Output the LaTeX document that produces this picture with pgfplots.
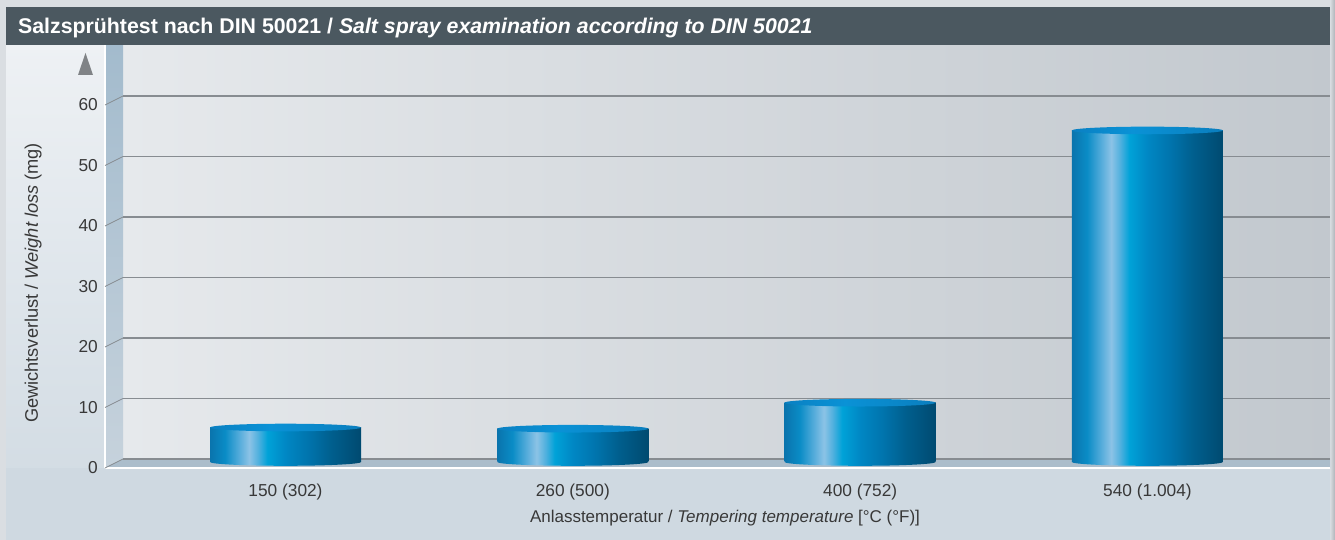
\documentclass[border=0pt]{standalone}
\usepackage{fontspec}
\setmainfont{Liberation Sans}
\usepackage{pgfplots}
\pgfplotsset{compat=1.18}
\definecolor{titlebar}{HTML}{4B5860}
\definecolor{canvas}{HTML}{DADEE2}
\definecolor{canvasR}{HTML}{AEB3B8}
\definecolor{paneltop}{HTML}{EEF1F4}
\definecolor{panelmid}{HTML}{DEE5EB}
\definecolor{panelbot}{HTML}{CFD9E1}
\definecolor{wallL}{HTML}{E6E9EC}
\definecolor{wallR}{HTML}{C2C8CE}
\definecolor{stripT}{HTML}{A3BBCD}
\definecolor{stripB}{HTML}{C6D2DC}
\definecolor{floorc}{HTML}{ABBDCB}
\definecolor{gridc}{HTML}{878C91}
\definecolor{txt}{HTML}{383838}
\definecolor{arrowc}{HTML}{808386}
\definecolor{cA}{HTML}{0A74AD}
\definecolor{cB}{HTML}{0A8CC6}
\definecolor{cC}{HTML}{5AAEDC}
\definecolor{cD}{HTML}{8CC3E6}
\definecolor{cE}{HTML}{4FB0DE}
\definecolor{cF}{HTML}{00A2D8}
\definecolor{cG}{HTML}{0087C4}
\definecolor{cH}{HTML}{0074AD}
\definecolor{cI}{HTML}{005F8E}
\definecolor{cJ}{HTML}{004A70}
\definecolor{tA}{HTML}{0A80C2}
\definecolor{tB}{HTML}{0A92D6}
\definecolor{tC}{HTML}{0A7EBE}
\pgfdeclarehorizontalshading{cyl}{100bp}{%
color(0bp)=(cA); color(25bp)=(cA);
color(30bp)=(cB); color(35bp)=(cC);
color(38bp)=(cD); color(41bp)=(cE);
color(44bp)=(cF); color(50bp)=(cG);
color(57.5bp)=(cH); color(65bp)=(cI);
color(75bp)=(cJ); color(100bp)=(cJ)}
\pgfdeclarehorizontalshading{cyltopsh}{100bp}{%
color(0bp)=(tA); color(25bp)=(tA);
color(45bp)=(tB); color(75bp)=(tC); color(100bp)=(tC)}
\pgfdeclareplotmark{cyltop}{\shade[draw=none, shading=cyltopsh] (0pt,0pt) ellipse [x radius=75.5pt, y radius=3.8pt];}
\pgfdeclareplotmark{cylbot}{\shade[draw=none, shading=cyl] (0pt,0pt) ellipse [x radius=75.5pt, y radius=3.8pt];}
\pgfplotsset{cylbar/.style={ybar, bar width=151pt, bar shift=0pt, draw=none, shade, shading=cyl}}
\begin{document}
\begin{tikzpicture}[x=1pt,y=1pt]
\path[use as bounding box] (0,0) rectangle (1335,540);
% canvas and panel
\fill[canvas] (0,0) rectangle (1335,540);
\shade[left color=canvas, right color=canvasR] (1330,0) rectangle (1335,540);
\shade[top color=paneltop, bottom color=panelbot, middle color=panelmid] (6,0) rectangle (1330,495);
\fill[panelbot] (6,0) rectangle (1330,72);
% back wall
\shade[left color=wallL, right color=wallR] (123,81) rectangle (1330,495);
% left strip
\shade[top color=stripT, bottom color=stripB] (105,72) -- (123,81) -- (123,495) -- (105,495) -- cycle;
% floor
\fill[floorc] (105,72) -- (123,81) -- (1330,81) -- (1330,72) -- cycle;
\draw[white, line width=1.6pt] (105,72) -- (1330,72);
\draw[white, line width=1.2pt] (105,72) -- (105,495);
% tick connectors
\foreach \v in {0,10,...,60}{
  \draw[gridc, line width=0.8pt] (105,72+6.05*\v) -- (123,81+6.05*\v);
}
% title bar
\fill[titlebar] (6,495) rectangle (1330,533);
\node[anchor=base west, inner sep=0pt, text=white, font=\fontsize{21.3}{24}\selectfont\bfseries] at (18,506.5)
  {Salzsprühtest nach DIN 50021 / \textit{Salt spray examination according to DIN 50021}};
% arrow
\fill[arrowc] (78,465) -- (93,465) -- (85.5,487) -- cycle;
% back wall grid
\begin{axis}[at={(123pt,81pt)}, anchor=south west, scale only axis,
  width=1207pt, height=414pt, ymin=0, ymax=68.43, xmin=0, xmax=1,
  axis line style={draw=none}, tick style={draw=none}, major tick length=0pt,
  xtick=\empty, ytick={0,10,...,60}, yticklabels={},
  ymajorgrids, grid style={draw=gridc, line width=1.7pt}]
\addplot[draw=none] coordinates {(0,0)(1,0)};
\end{axis}
% front axis: y tick labels and y label
\begin{axis}[at={(105pt,72pt)}, anchor=south west, scale only axis,
  width=1207pt, height=414pt, ymin=0, ymax=68.43, xmin=0, xmax=1,
  axis line style={draw=none}, tick style={draw=none}, major tick length=0pt,
  xtick=\empty, ytick={0,10,...,60},
  /pgf/number format/assume math mode=true,
  yticklabel style={anchor=east, inner sep=0pt, xshift=-7pt, text=txt, font=\fontsize{17.3}{20}\selectfont},
  ylabel={Gewichtsverlust / \textit{Weight loss} (mg)},
  ylabel style={at={(axis description cs:-0.05551,0.447)}, anchor=base, inner sep=0pt, text=txt, font=\fontsize{18.2}{20}\selectfont}]
\addplot[draw=none] coordinates {(0,0)(1,0)};
\end{axis}
% bars
\begin{axis}[at={(114pt,78pt)}, anchor=south west, scale only axis,
  width=1207pt, height=414pt, ymin=0, ymax=68.43, xmin=-0.5969, xmax=3.6039,
  clip=false,
  axis line style={draw=none}, tick style={draw=none}, major tick length=0pt,
  ytick=\empty, xtick={0,1,2,3},
  xticklabels={150 (302),260 (500),400 (752),540 (1.004)},
  xticklabel style={anchor=base, inner sep=0pt, yshift=-35pt, text=txt, font=\fontsize{17.3}{20}\selectfont},
  xlabel={Anlasstemperatur / \textit{Tempering temperature} [°C (°F)]},
  xlabel style={at={(axis description cs:0.5062,0)}, anchor=base, inner sep=0pt, yshift=-61pt, text=txt, font=\fontsize{17}{20}\selectfont}]
\addplot[only marks, mark=cylbot, mark options={draw=none}] coordinates {(0,0)(1,0)(2,0)(3,0)};
\addplot[cylbar] coordinates {(0,5.7)};
\addplot[cylbar] coordinates {(1,5.5)};
\addplot[cylbar] coordinates {(2,9.8)};
\addplot[cylbar] coordinates {(3,54.8)};
\addplot[only marks, mark=cyltop, mark options={draw=none}] coordinates {(0,5.7)(1,5.5)(2,9.8)(3,54.8)};
\end{axis}
\end{tikzpicture}
\end{document}
